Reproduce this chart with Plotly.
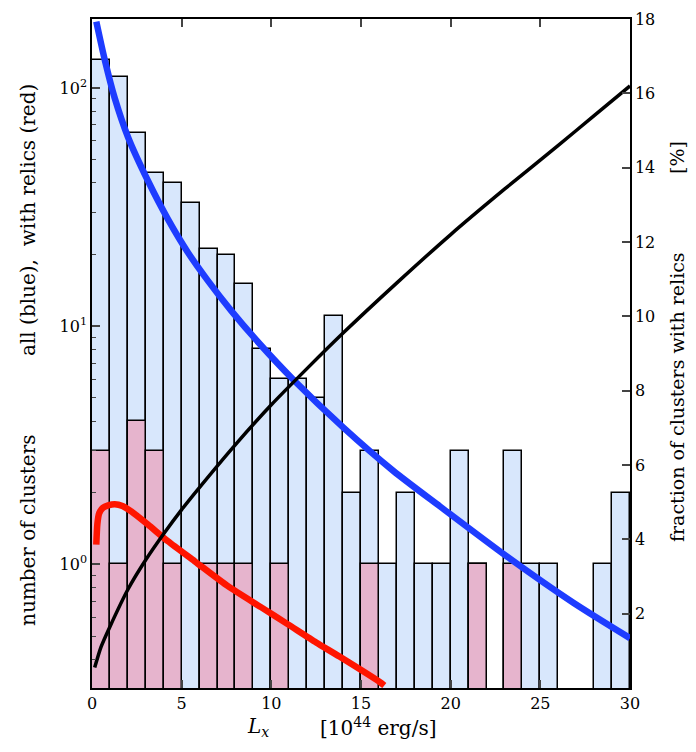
import plotly.graph_objects as go

# Histogram bins (width 1, from 0 to 30)
bin_left = list(range(30))
all_counts = [131, 111, 65, 44, 40, 33, 21, 20, 15, 8, 6, 6, 5, 11, 2, 3,
              1, 2, 1, 1, 3, 1, None, 3, 1, 1, None, None, 1, 2]
relic_counts = [3, 1, 4, 3, 1, None, 1, 1, 1, None, 1, None, None, None, None, 1,
                None, None, None, None, None, 1, None, 1, None, None, None, None, None, None]

# Model curves
blue_x = [0.24, 0.71, 1.27, 2.01, 3.12, 4.24, 5.35, 6.47, 7.77, 9.37, 11.23, 14.02, 16.8, 19.41, 23.13, 26.84, 30.0]
blue_y = [190, 131.5, 90.6, 62.2, 40.8, 28.1, 20.4, 15.5, 11.6, 8.4, 5.96, 3.75, 2.47, 1.75, 1.08, 0.69, 0.49]

red_x = [0.24, 0.30, 0.40, 0.61, 0.9, 1.27, 1.7, 2.19, 3.12, 4.24, 5.73, 7.58, 9.44, 10.93, 12.5, 13.8, 16.06, 16.3]
red_y = [1.21, 1.48, 1.64, 1.73, 1.77, 1.79, 1.76, 1.67, 1.47, 1.25, 1.03, 0.81, 0.66, 0.56, 0.47, 0.41, 0.32, 0.31]

black_x = [0.15, 0.5, 1, 2, 3, 4, 5, 6, 8, 10, 12, 14, 17, 20, 23, 26, 28, 30]
black_y = [0.55, 1.1, 1.65, 2.65, 3.45, 4.15, 4.8, 5.4, 6.55, 7.62, 8.6, 9.55, 10.9, 12.2, 13.42, 14.6, 15.4, 16.2]

x_ticks = [0, 5, 10, 15, 20, 25, 30]
y_ticks = [1, 10, 100]
y_ticktext = ["10<sup>0</sup>", "10<sup>1</sup>", "10<sup>2</sup>"]
y_minor = [0.3, 0.4, 0.5, 0.6, 0.7, 0.8, 0.9, 2, 3, 4, 5, 6, 7, 8, 9,
           20, 30, 40, 50, 60, 70, 80, 90]
y2_ticks = [2, 4, 6, 8, 10, 12, 14, 16, 18]

centers = [b + 0.5 for b in bin_left]

FONT = "DejaVu Serif"
TICKSIZE = 16
TITLESIZE = 20

fig = go.Figure()
fig.add_trace(go.Bar(x=centers, y=all_counts, width=1,
                     marker=dict(color="#d8e7fc", line=dict(color="black", width=1.5)),
                     yaxis="y"))
fig.add_trace(go.Bar(x=centers, y=relic_counts, width=1,
                     marker=dict(color="#e6b4cd", line=dict(color="black", width=1.5)),
                     yaxis="y"))
fig.add_trace(go.Scatter(x=blue_x, y=blue_y, mode="lines",
                         line=dict(color="#1e3cff", width=6.5, shape="spline", smoothing=0.7), yaxis="y"))
fig.add_trace(go.Scatter(x=red_x, y=red_y, mode="lines",
                         line=dict(color="#ff1500", width=6.5, shape="spline", smoothing=0.6), yaxis="y"))
fig.add_trace(go.Scatter(x=black_x, y=black_y, mode="lines",
                         line=dict(color="black", width=3.5, shape="spline", smoothing=0.7), yaxis="y2"))

# The page places the figure 8px from the window's top-left corner;
# plot area should land on window x 92..630, y 19..688.
fig.update_layout(
    width=680, height=736,
    margin=dict(l=84, r=58, t=11, b=56, autoexpand=False),
    paper_bgcolor="white", plot_bgcolor="white",
    barmode="overlay", bargap=0, showlegend=False,
    font=dict(family=FONT, size=TICKSIZE, color="black"),
    xaxis=dict(range=[0, 30], tickvals=x_ticks, ticks="inside", ticklen=8, tickwidth=1.5,
               showline=True, linecolor="black", linewidth=1.5, mirror="ticks",
               showgrid=False, zeroline=False, tickfont=dict(size=TICKSIZE), automargin=False),
    yaxis=dict(type="log", range=[-0.519, 2.29], tickvals=y_ticks, ticktext=y_ticktext,
               ticks="inside", ticklen=8, tickwidth=1.5,
               minor=dict(tickvals=y_minor, ticks="inside", ticklen=4, tickwidth=1.2, showgrid=False),
               showline=True, linecolor="black", linewidth=1.5,
               showgrid=False, zeroline=False, tickfont=dict(size=TICKSIZE), automargin=False),
    yaxis2=dict(range=[0, 18], tickvals=y2_ticks, overlaying="y", side="right",
                ticks="inside", ticklen=8, tickwidth=1.5,
                showline=True, linecolor="black", linewidth=1.5,
                showgrid=False, zeroline=False, tickfont=dict(size=TICKSIZE), automargin=False),
)

# helpers: window pixel -> paper coordinate
def px(xp):
    return (xp - 92) / 538.0

def py(yp):
    return (688 - yp) / 669.0

ann = dict(xref="paper", yref="paper", showarrow=False, xanchor="center", yanchor="middle",
           font=dict(family=FONT, size=TITLESIZE))
fig.add_annotation(text="number of clusters", x=px(28), y=py(530), textangle=-90, **ann)
fig.add_annotation(text="all (blue),  with relics (red)", x=px(28), y=py(220), textangle=-90, **ann)
fig.add_annotation(text="fraction of clusters with relics", x=px(677), y=py(397), textangle=-90,
                   **{**ann, "font": dict(family=FONT, size=19)})
fig.add_annotation(text="[%]", x=px(677), y=py(157), textangle=-90,
                   **{**ann, "font": dict(family=FONT, size=19)})
fig.add_annotation(text="<i>L<sub>x</sub></i>", x=px(258), y=py(727), **ann)
fig.add_annotation(text="[10<sup>44</sup> erg/s]", x=px(378), y=py(727), **ann)

fig.write_html("out.html")
